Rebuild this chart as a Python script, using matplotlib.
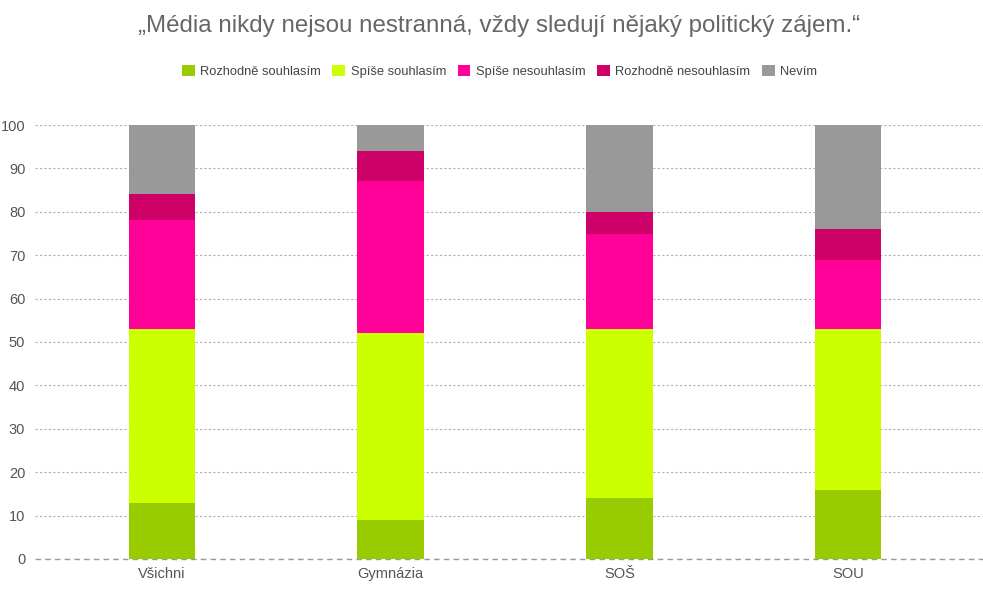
import numpy as np
import matplotlib.pyplot as plt

plt.rcParams['font.family'] = ['Liberation Sans', 'DejaVu Sans']

categories = ['Všichni', 'Gymnázia', 'SOŠ', 'SOU']
series_names = ['Rozhodně souhlasím', 'Spíše souhlasím', 'Spíše nesouhlasím',
                'Rozhodně nesouhlasím', 'Nevím']
rozhodne_souhlasim = [13, 9, 14, 16]
spise_souhlasim = [40, 43, 39, 37]
spise_nesouhlasim = [25, 35, 22, 16]
rozhodne_nesouhlasim = [6, 7, 5, 7]
nevim = [16, 6, 20, 24]

colors = ['#99cc00', '#ccff00', '#ff0099', '#cc0066', '#999999']
series = [rozhodne_souhlasim, spise_souhlasim, spise_nesouhlasim,
          rozhodne_nesouhlasim, nevim]

fig = plt.figure(figsize=(9.83, 6.08), dpi=100)
ax = fig.add_axes([0.0356, 0.0806, 0.9644, 0.7138])

x = np.arange(len(categories))
bottom = np.zeros(len(categories))
for name, vals, c in zip(series_names, series, colors):
    ax.bar(x, vals, 0.29, bottom=bottom, color=c, label=name, zorder=3)
    bottom += np.array(vals)

ax.set_ylim(0, 100)
ax.set_xlim(-0.555, 3.59)
ax.set_yticks(range(0, 101, 10))
ax.set_xticks(x)
ax.set_xticklabels(categories)
ax.yaxis.grid(True, linestyle=(0, (2, 2)), color='#b0b0b0', linewidth=0.8, zorder=0)
ax.axhline(0, color='#999999', linestyle=(0, (4, 3)), linewidth=1.0, zorder=2, clip_on=False)
for s in ax.spines.values():
    s.set_visible(False)
ax.tick_params(length=0, labelsize=10.5, labelcolor='#555555')
ax.tick_params(axis='y', pad=7)
ax.tick_params(axis='x', pad=6)

fig.text(0.508, 0.958, '„Média nikdy nejsou nestranná, vždy sledují nějaký politický zájem.“',
         ha='center', va='center', fontsize=17.4, color='#666666')
fig.legend(loc='center', bbox_to_anchor=(0.508, 0.883), ncol=5, frameon=False,
           fontsize=9.3, labelcolor='#444444', handlelength=1.0, handleheight=1.0,
           handletextpad=0.4, columnspacing=0.9)

fig.savefig('out.png', dpi=100)
